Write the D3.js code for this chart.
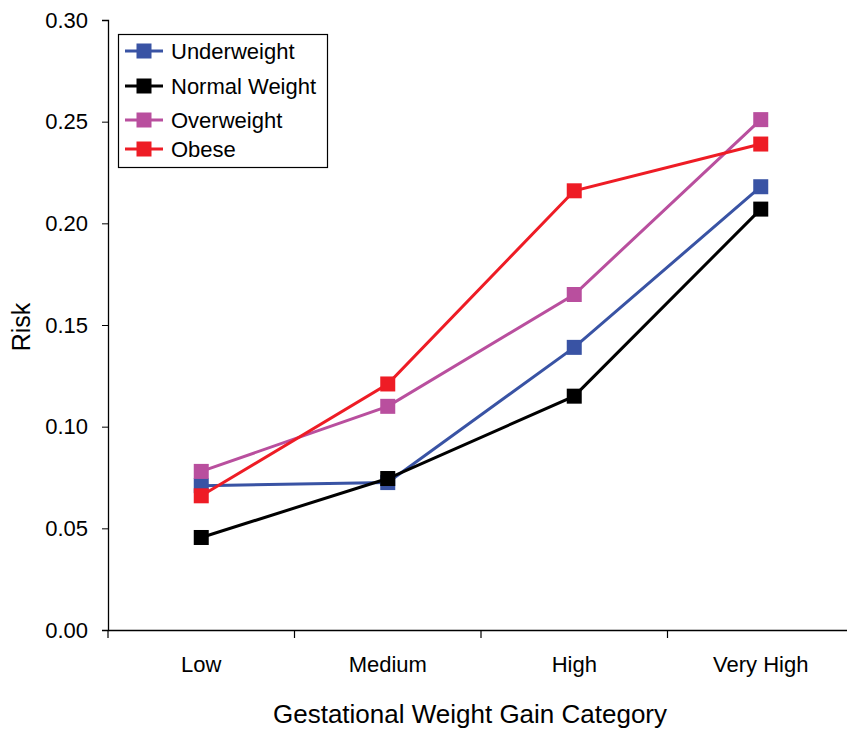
<!DOCTYPE html>
<html><head><meta charset="utf-8">
<script src="https://cdn.jsdelivr.net/npm/d3@7"></script>
<style>body{margin:0;background:#fff}svg{display:block}text{font-family:"Liberation Sans",Arial,sans-serif}</style>
</head><body>
<svg id="c" width="847" height="730"></svg>
<script>
const categories = ["Low", "Medium", "High", "Very High"];
const seriesNames = ["Underweight", "Normal Weight", "Overweight", "Obese"];
const underweight = [0.071, 0.0725, 0.139, 0.218];
const normalWeight = [0.0455, 0.0745, 0.115, 0.207];
const overweight = [0.078, 0.110, 0.165, 0.251];
const obese = [0.066, 0.121, 0.216, 0.239];
const colors = ["#3953A4", "#000000", "#B94F9E", "#EE1C25"];
const yTicks = [0, 0.05, 0.10, 0.15, 0.20, 0.25, 0.30];

(function () {
const series = [underweight, normalWeight, overweight, obese].map((v, i) => ({name: seriesNames[i], values: v, color: colors[i]}));

const svg = d3.select("#c");
const mLeft = 108, mRight = 854, mTop = 20, mBottom = 630;
const x = d3.scaleBand().domain(categories).range([mLeft, mRight]);
const y = d3.scaleLinear().domain([0, 0.30]).range([mBottom, mTop]);

const yAxis = svg.append("g").attr("transform", `translate(${mLeft},0)`)
  .call(d3.axisLeft(y).tickValues(yTicks).tickFormat(d3.format(".2f")).tickSizeOuter(0).tickSize(6).tickPadding(14));
yAxis.select(".domain").attr("stroke", "#000").attr("stroke-width", 1.3);
yAxis.selectAll("text").attr("font-size", 22).attr("fill", "#000");

const xAxis = svg.append("g").attr("transform", `translate(0,${mBottom})`)
  .call(d3.axisBottom(x).tickSize(0).tickPadding(26).tickSizeOuter(0));
xAxis.select(".domain").attr("stroke", "#000").attr("stroke-width", 1.3);
xAxis.selectAll("text").attr("font-size", 22).attr("fill", "#000");
const bounds = categories.map(c => x(c));
svg.append("g").selectAll("line").data(bounds).join("line")
  .attr("x1", d => d).attr("x2", d => d).attr("y1", mBottom).attr("y2", mBottom + 8)
  .attr("stroke", "#000").attr("stroke-width", 1.2);

const cx = c => x(c) + x.bandwidth() / 2;
const line = d3.line().x((d, i) => cx(categories[i])).y(d => y(d));
const ms = 15;
series.forEach(s => {
  const g = svg.append("g");
  g.append("path").attr("d", line(s.values)).attr("fill", "none").attr("stroke", s.color).attr("stroke-width", 3);
  g.selectAll("rect").data(s.values).join("rect")
    .attr("x", (d, i) => cx(categories[i]) - ms / 2).attr("y", d => y(d) - ms / 2)
    .attr("width", ms).attr("height", ms).attr("fill", s.color);
});

svg.append("text").attr("x", 470).attr("y", 723).attr("text-anchor", "middle").attr("font-size", 26).text("Gestational Weight Gain Category");
svg.append("text").attr("transform", "translate(30,327) rotate(-90)").attr("text-anchor", "middle").attr("font-size", 25).text("Risk");

const lg = svg.append("g");
lg.append("rect").attr("x", 118.5).attr("y", 34.5).attr("width", 209).attr("height", 133).attr("fill", "#fff").attr("stroke", "#000").attr("stroke-width", 1.2);
const ly = [51, 86, 120, 149];
series.forEach((s, i) => {
  lg.append("line").attr("x1", 125).attr("x2", 163).attr("y1", ly[i]).attr("y2", ly[i]).attr("stroke", s.color).attr("stroke-width", 3);
  lg.append("rect").attr("x", 144 - 7.5).attr("y", ly[i] - 7.5).attr("width", 15).attr("height", 15).attr("fill", s.color);
  lg.append("text").attr("x", 171).attr("y", ly[i]).attr("dy", "0.35em").attr("font-size", 22).text(s.name);
});
})();
</script>
</body></html>
